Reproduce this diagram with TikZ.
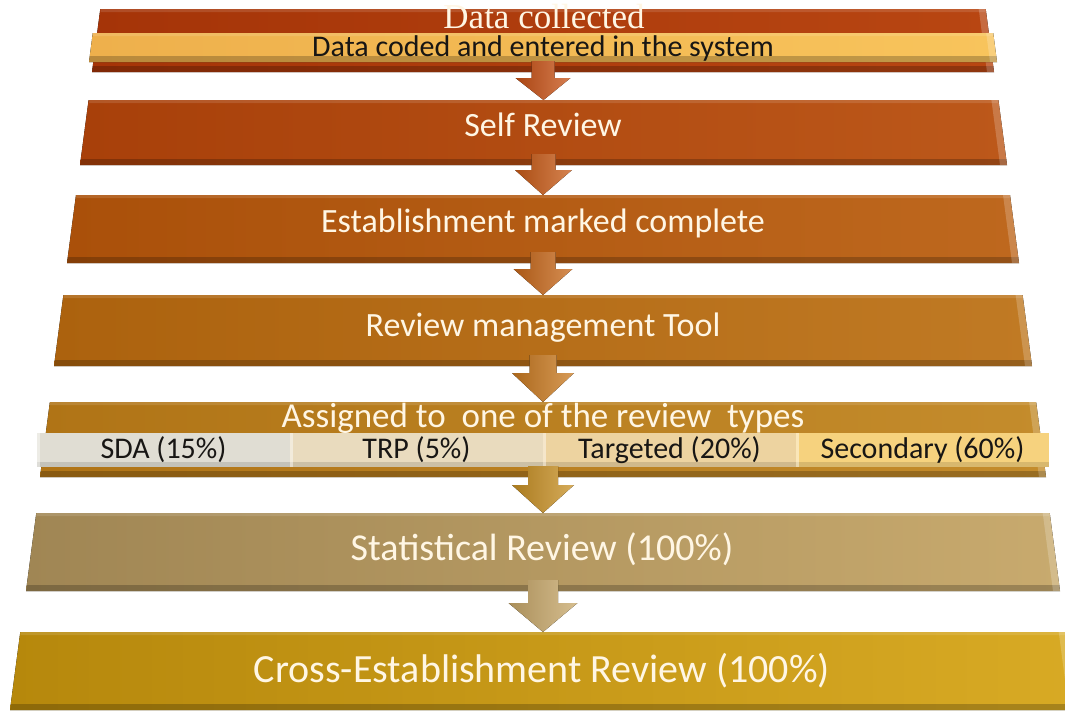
\documentclass[tikz,border=0pt]{standalone}
\usepackage{fontspec}
\setmainfont{Carlito}
\newfontfamily\oldserif{Liberation Serif}
\usetikzlibrary{positioning,calc}
\definecolor{creamtext}{RGB}{255,246,228}
\definecolor{inktext}{RGB}{24,22,20}
% bars, left and right shades
\definecolor{barAL}{RGB}{165,52,8}    \definecolor{barAR}{RGB}{184,70,18}
\definecolor{barBL}{RGB}{168,64,10}   \definecolor{barBR}{RGB}{188,88,26}
\definecolor{barCL}{RGB}{170,80,10}   \definecolor{barCR}{RGB}{190,104,30}
\definecolor{barDL}{RGB}{172,98,14}   \definecolor{barDR}{RGB}{192,122,36}
\definecolor{barEL}{RGB}{176,116,22}  \definecolor{barER}{RGB}{196,140,44}
\definecolor{barFL}{RGB}{160,134,84}  \definecolor{barFR}{RGB}{200,170,110}
\definecolor{barGL}{RGB}{182,136,12}  \definecolor{barGR}{RGB}{216,170,36}
\definecolor{bandL}{RGB}{238,176,76}  \definecolor{bandR}{RGB}{248,196,92}
% review type cells
\definecolor{cellsda}{RGB}{224,221,211}
\definecolor{celltrp}{RGB}{233,219,190}
\definecolor{celltarg}{RGB}{237,211,160}
\definecolor{cellsec}{RGB}{246,210,126}
% arrows
\definecolor{arrA}{RGB}{200,82,22}
\definecolor{arrB}{RGB}{200,90,22}
\definecolor{arrC}{RGB}{200,104,26}
\definecolor{arrD}{RGB}{202,122,32}
\definecolor{arrE}{RGB}{200,144,36}
\definecolor{arrF}{RGB}{200,168,106}
\tikzset{
  stagebox/.style={rectangle, inner sep=0pt, outer sep=0pt},
  stagetext/.style={text=creamtext, anchor=base, inner sep=0pt, font=\fontsize{#1}{#1}\selectfont},
  cell/.style={rectangle, inner sep=0pt, outer sep=0pt, minimum width=253pt, minimum height=34pt,
    text=inktext, font=\fontsize{30}{30}\selectfont,
    path picture={
      \fill[black,opacity=.12] ([yshift=5pt]path picture bounding box.south west)
        rectangle (path picture bounding box.south east);
      \fill[white,opacity=.45] (path picture bounding box.north west)
        rectangle ([xshift=3pt]path picture bounding box.south west);
    }}
}
\begin{document}
\begin{tikzpicture}[x=1pt,y=-1pt]
  \useasboundingbox (0,0) rectangle (1065,713);
  \fill[white] (0,0) rectangle (1065,713);

  % the seven bars (box = bottom width x height)
  \node[stagebox, minimum width=902pt, minimum height=63pt] (collect) at (543,40.5) {};
  \node[stagebox, minimum width=927pt, minimum height=65pt] (selfrev) at (543.5,132.5) {};
  \node[stagebox, minimum width=952pt, minimum height=68pt] (complete) at (543,229) {};
  \node[stagebox, minimum width=978pt, minimum height=71pt] (mgmt) at (543,330.5) {};
  \node[stagebox, minimum width=1006pt, minimum height=75pt] (assign) at (543,439.5) {};
  \node[stagebox, minimum width=1034pt, minimum height=78pt] (statrev) at (543,552) {};
  \node[stagebox, minimum width=1066pt, minimum height=78pt] (crossrev) at (543,671) {};
  \node[stagebox, minimum width=908pt, minimum height=29pt] (coded) at (543,47.5) {};

  \foreach \n/\s/\cl/\cr in {collect/8.3/barAL/barAR, selfrev/8.6/barBL/barBR,
      complete/9/barCL/barCR, mgmt/9.4/barDL/barDR, assign/9.9/barEL/barER,
      statrev/10.3/barFL/barFR, crossrev/10.3/barGL/barGR, coded/3.8/bandL/bandR} {
    \fill[left color=\cl, right color=\cr]
      ($(\n.north west)+(\s,0)$) -- ($(\n.north east)+(-\s,0)$) -- (\n.south east) -- (\n.south west) -- cycle;
    % bevel: dark foot, light right edge, light top
    \fill[black,opacity=.22]
      ($(\n.south west)+(0.9,-6)$) -- ($(\n.south east)+(-0.9,-6)$) -- (\n.south east) -- (\n.south west) -- cycle;
    \fill[white,opacity=.2]
      ($(\n.north east)+(-\s,0)$) -- (\n.south east) -- ($(\n.south east)+(-7,0)$) -- ($(\n.north east)+(-\s-7,0)$) -- cycle;
    \fill[white,opacity=.12]
      ($(\n.north west)+(\s,0)$) -- ($(\n.north east)+(-\s,0)$) -- ($(\n.north east)+(-\s-0.4,3)$) -- ($(\n.north west)+(\s+0.4,3)$) -- cycle;
  }

  % labels
  \node[stagetext=35, font=\oldserif\fontsize{35}{35}\selectfont, text depth=0pt] (collectlbl) at (544,28) {Data collected};
  \node[anchor=base, inner sep=0pt, text=inktext, font=\fontsize{30}{30}\selectfont, text height=19pt] (codedlbl) at (543,56) {Data coded and entered in the system};
  \node[stagetext=34] (selflbl) at (543,136) {Self Review};
  \node[stagetext=34] (completelbl) at (543,232) {Establishment marked complete};
  \node[stagetext=34] (mgmtlbl) at (543,336) {Review management Tool};
  \node[stagetext=35] (assignlbl) at (543,427) {Assigned to\ \ one of the review\ \ types};
  \node[stagetext=38] (statlbl) at (542,560) {Statistical Review (100\%)};
  \node[stagetext=40] (crosslbl) at (542,682) {Cross-Establishment Review (100\%)};

  % review types
  \node[cell, fill=cellsda] (sda) at (163.5,450) {SDA (15\%)};
  \node[cell, fill=celltrp, right=0pt of sda] (trp) {TRP (5\%)};
  \node[cell, fill=celltarg, right=0pt of trp] (targeted) {Targeted (20\%)};
  \node[cell, fill=cellsec, right=0pt of targeted] (secondary) {Secondary (60\%)};

  % block arrows between the bars
  \foreach \a/\b/\c/\w/\h/\d in {collect/selfrev/arrA/11.5/27.5/6,
      selfrev/complete/arrB/12/28.5/5,
      complete/mgmt/arrC/12.5/29.5/6,
      mgmt/assign/arrD/13.5/31/7,
      assign/statrev/arrE/15/31/8,
      statrev/crossrev/arrF/15/34.5/12} {
    \fill[left color=\c!85!black, right color=\c!75!white]
      ($(\a.south)+(-\w,-11)$) -- ($(\a.south)+(-\w,\d)$) -- ($(\a.south)+(-\h,\d)$)
      -- (\b.north) -- ($(\a.south)+(\h,\d)$) -- ($(\a.south)+(\w,\d)$)
      -- ($(\a.south)+(\w,-11)$) -- cycle;
  }
\end{tikzpicture}
\end{document}
